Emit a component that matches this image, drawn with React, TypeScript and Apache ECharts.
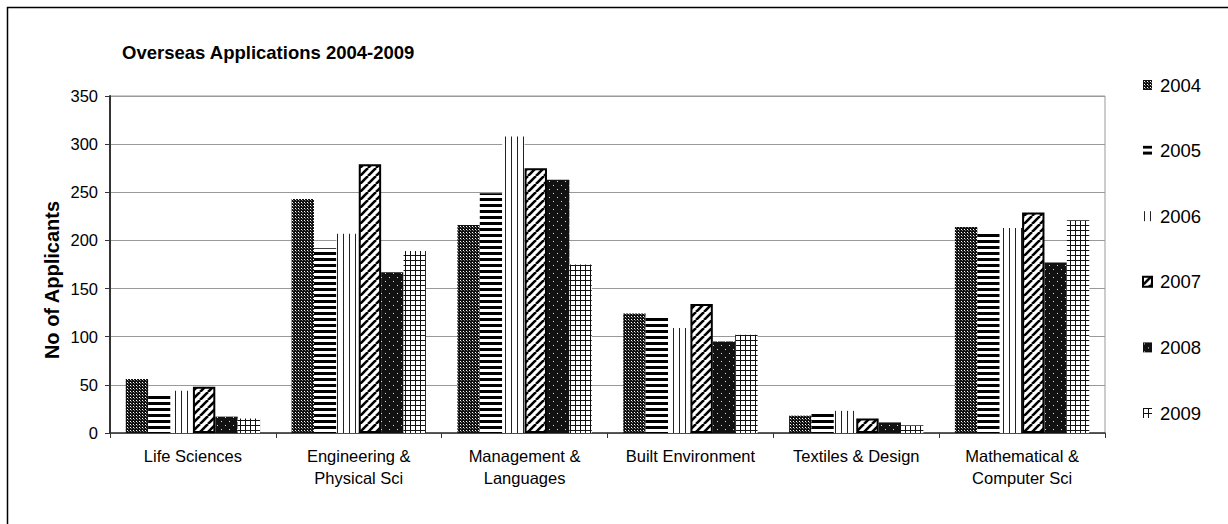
import React, { useEffect, useRef } from "react";
import * as echarts from "echarts";

const categories = [
  "Life Sciences",
  "Engineering &\nPhysical Sci",
  "Management &\nLanguages",
  "Built Environment",
  "Textiles & Design",
  "Mathematical &\nComputer Sci",
];
const years = ["2004", "2005", "2006", "2007", "2008", "2009"];
const v2004 = [56, 243, 216, 124, 18, 214];
const v2005 = [40, 192, 249, 122, 20, 207];
const v2006 = [44, 207, 308, 109, 23, 213];
const v2007 = [48, 279, 275, 134, 15, 229];
const v2008 = [17, 167, 263, 95, 11, 177];
const v2009 = [15, 189, 175, 102, 8, 221];
const yTicks = { min: 0, max: 350, interval: 50 };

function tile(w: number, h: number, draw: (c: CanvasRenderingContext2D) => void) {
  const cv = document.createElement("canvas");
  cv.width = w;
  cv.height = h;
  const ctx = cv.getContext("2d")!;
  draw(ctx);
  return { image: cv, repeat: "repeat", imageWidth: w, imageHeight: h } as any;
}

function makePatterns() {
  const p2004 = tile(3, 3, (c) => {
    c.fillStyle = "#111111";
    c.fillRect(0, 0, 3, 3);
    c.fillStyle = "#ffffff";
    c.fillRect(1, 1, 1, 1);
    c.fillStyle = "#777777";
    c.fillRect(2, 2, 1, 1);
  });
  const p2005 = tile(6, 6, (c) => {
    c.fillStyle = "#ffffff";
    c.fillRect(0, 0, 6, 6);
    c.fillStyle = "#000000";
    c.fillRect(0, 0, 6, 3);
  });
  const p2006 = tile(6, 6, (c) => {
    c.fillStyle = "#ffffff";
    c.fillRect(0, 0, 6, 6);
    c.fillStyle = "#222222";
    c.fillRect(1, 0, 1, 6);
  });
  const p2007 = tile(8, 8, (c) => {
    c.fillStyle = "#ffffff";
    c.fillRect(0, 0, 8, 8);
    c.strokeStyle = "#000000";
    c.lineWidth = 2.6;
    for (const o of [-8, 0, 8]) {
      c.beginPath();
      c.moveTo(o, 8);
      c.lineTo(o + 8, 0);
      c.stroke();
    }
  });
  const p2008 = tile(8, 8, (c) => {
    c.fillStyle = "#111111";
    c.fillRect(0, 0, 8, 8);
    c.fillStyle = "#dddddd";
    c.fillRect(1, 1, 1, 1);
    c.fillRect(5, 5, 1, 1);
  });
  const p2009 = tile(5, 5, (c) => {
    c.fillStyle = "#ffffff";
    c.fillRect(0, 0, 5, 5);
    c.fillStyle = "#111111";
    c.fillRect(0, 0, 5, 1);
    c.fillRect(0, 0, 1, 5);
  });
  return [p2004, p2005, p2006, p2007, p2008, p2009];
}

const FONT = "'Liberation Sans', Arial, sans-serif";

export default function App() {
  const ref = useRef<HTMLDivElement>(null);
  useEffect(() => {
    if (!ref.current) return;
    const chart = echarts.init(ref.current, null, { renderer: "svg" });
    const patterns = makePatterns();
    const values = [v2004, v2005, v2006, v2007, v2008, v2009];
    const series = years.map((y, i) => ({
      name: y,
      type: "bar",
      data: values[i],
      barGap: "0%",
      barCategoryGap: "19%",
      itemStyle: {
        color: patterns[i],
        borderColor: i === 3 ? "#000" : undefined,
        borderWidth: i === 3 ? 2 : 0,
      },
    }));
    chart.setOption({
      animation: false,
      backgroundColor: "#fff",
      textStyle: { fontFamily: FONT },
      grid: {
        left: 110,
        right: 123,
        top: 96,
        bottom: 91,
        show: true,
        borderColor: "#999",
        borderWidth: 1,
      },
      legend: {
        orient: "vertical",
        left: 1142,
        top: 75,
        padding: 0,
        itemWidth: 9,
        itemHeight: 10,
        itemGap: 45.6,
        icon: "rect",
        data: years,
        textStyle: {
          fontSize: 18.5,
          color: "#000",
          fontFamily: FONT,
          lineHeight: 20,
          padding: [0, 0, 0, 3],
        },
      },
      xAxis: {
        type: "category",
        data: categories,
        axisLine: { show: true, lineStyle: { color: "#333", width: 1.5 } },
        axisTick: { show: true, length: 5, lineStyle: { color: "#333" } },
        axisLabel: {
          color: "#000",
          fontSize: 16.5,
          lineHeight: 22,
          margin: 12,
          interval: 0,
          fontFamily: FONT,
        },
      },
      yAxis: {
        type: "value",
        min: yTicks.min,
        max: yTicks.max,
        interval: yTicks.interval,
        axisLine: { show: true, lineStyle: { color: "#333", width: 2 } },
        axisTick: { show: true, length: 5, lineStyle: { color: "#333" } },
        axisLabel: { color: "#000", fontSize: 16.5, margin: 12, fontFamily: FONT },
        splitLine: { show: true, lineStyle: { color: "#999", width: 1 } },
      },
      graphic: [
        {
          type: "rect",
          shape: { x: 7.5, y: 7.5, width: 1400, height: 700 },
          style: { fill: "none", stroke: "#000", lineWidth: 1.5 },
          silent: true,
        },
        {
          type: "text",
          x: 122,
          y: 52,
          style: {
            text: "Overseas Applications 2004-2009",
            fontSize: 18.5,
            fontWeight: "bold",
            fontFamily: FONT,
            fill: "#000",
            textAlign: "left",
            textVerticalAlign: "middle",
          },
        },
        {
          type: "text",
          x: 52,
          y: 280,
          rotation: Math.PI / 2,
          style: {
            text: "No of Applicants",
            fontSize: 20,
            fontWeight: "bold",
            fontFamily: FONT,
            fill: "#000",
            textAlign: "center",
            textVerticalAlign: "middle",
          },
        },
      ],
      series,
    });
    return () => chart.dispose();
  }, []);
  return (
    <div
      ref={ref}
      style={{ position: "fixed", left: 0, top: 0, width: 1228, height: 524 }}
    />
  );
}
